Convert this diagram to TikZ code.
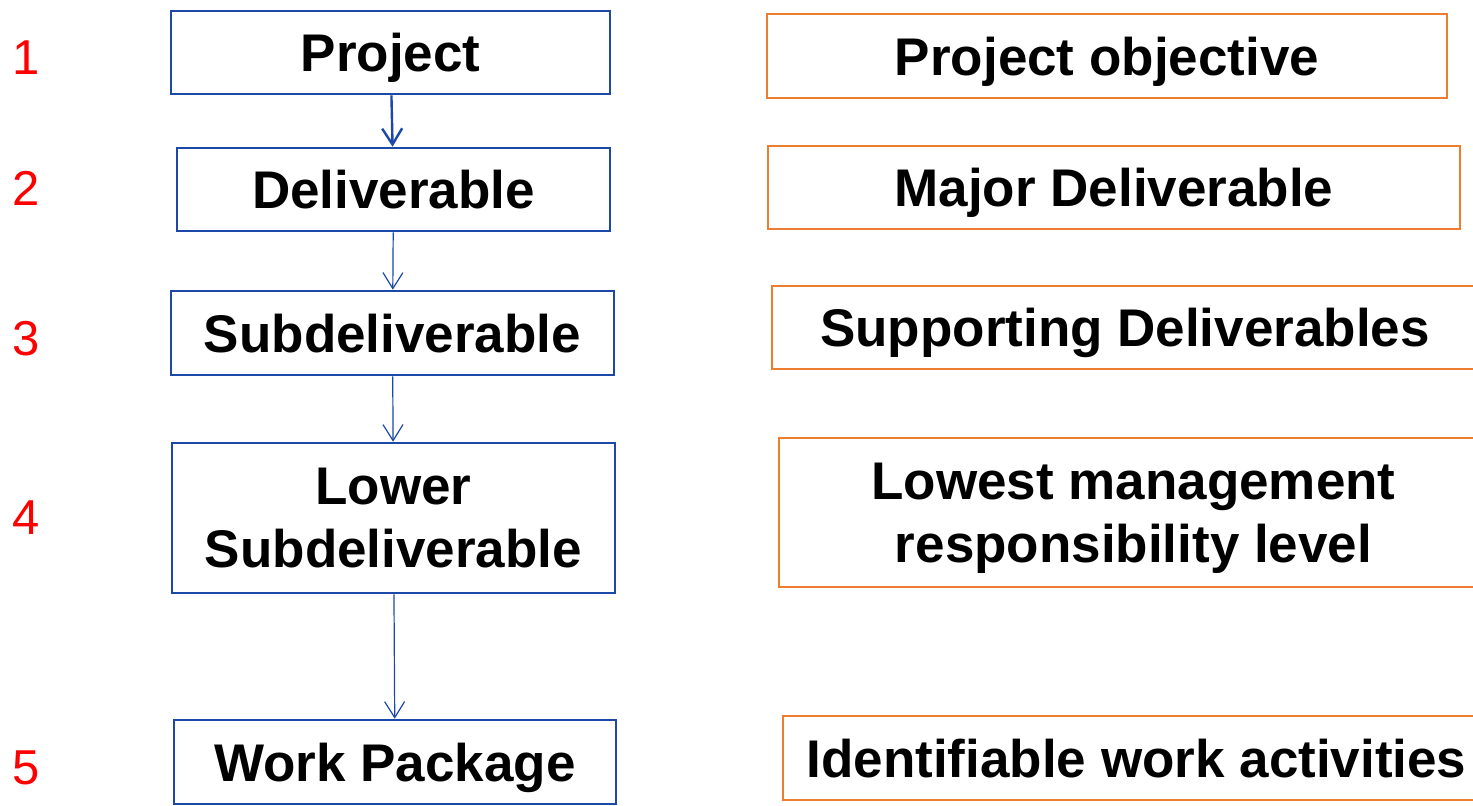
\documentclass[tikz,border=0pt]{standalone}
\usepackage{fontspec}
\setmainfont{Liberation Sans}
\usepackage{xcolor}
\usepackage{tikz}
\usetikzlibrary{arrows.meta}
\definecolor{wbsblau}{RGB}{28,72,168}
\definecolor{wbsorange}{RGB}{237,125,49}
\tikzset{ebene/.style={draw=wbsblau, line width=2.6pt, inner sep=0pt, align=center,
           font=\bfseries\fontsize{53}{63}\selectfont},
         beschr/.style={ebene, draw=wbsorange, line width=2.8pt},
         einzeilig/.style={text height=38pt, text depth=0pt},
         pfeil/.style={draw=wbsblau, line width=1.2pt, -{Straight Barb[length=16pt,width=20pt]}},
         nummer/.style={text=red, inner sep=0pt, font=\fontsize{49}{58}\selectfont}}

\begin{document}
\begin{tikzpicture}[x=1pt,y=-1pt]
\useasboundingbox (0,0) rectangle (1473,806);
% Die Nummern:
\foreach \n/\y in {1/57.5,2/188.5,3/339,4/518,5/768}
  \node[nummer] (nr\n) at (26,\y) {\n};
% Die Ebenen:
\node[ebene, einzeilig, minimum width=439pt, minimum height=83pt] (projekt) at (390.5,52.5) {Project};
\node[ebene, einzeilig, minimum width=433pt, minimum height=83pt] (deliv) at (393.5,189.5) {Deliverable};
\node[ebene, einzeilig, minimum width=443pt, minimum height=84pt] (subdeliv) at (392.5,333) {Subdeliverable};
\node[ebene, minimum width=443pt, minimum height=150pt] (lowersub) at (393.5,518) {Lower\\Subdeliverable};
\node[ebene, einzeilig, minimum width=442pt, minimum height=84pt] (workpkg) at (395,762) {Work Package};
\draw[pfeil, line width=2.4pt] (projekt) -- (deliv);
\draw[pfeil] (deliv) -- (subdeliv);
\draw[pfeil] (subdeliv) -- (lowersub);
\draw[pfeil] (lowersub) -- (workpkg);
% Die Beschreibungen:
\node[beschr, einzeilig, minimum width=680pt, minimum height=84pt] (ziel) at (1107,56) {Project objective};
\node[beschr, einzeilig, minimum width=692pt, minimum height=83pt] (major) at (1114,187.5) {Major Deliverable};
\node[beschr, einzeilig, minimum width=706pt, minimum height=83pt] (support) at (1125,327.5) {Supporting Deliverables};
\node[beschr, minimum width=709pt, minimum height=149pt] (lowest) at (1133.5,512.5) {Lowest management\\\smash{responsibility level}};
\node[beschr, einzeilig, minimum width=707pt, minimum height=84pt] (taetig) at (1136.5,758) {Identifiable work activities};
\end{tikzpicture}
\end{document}
